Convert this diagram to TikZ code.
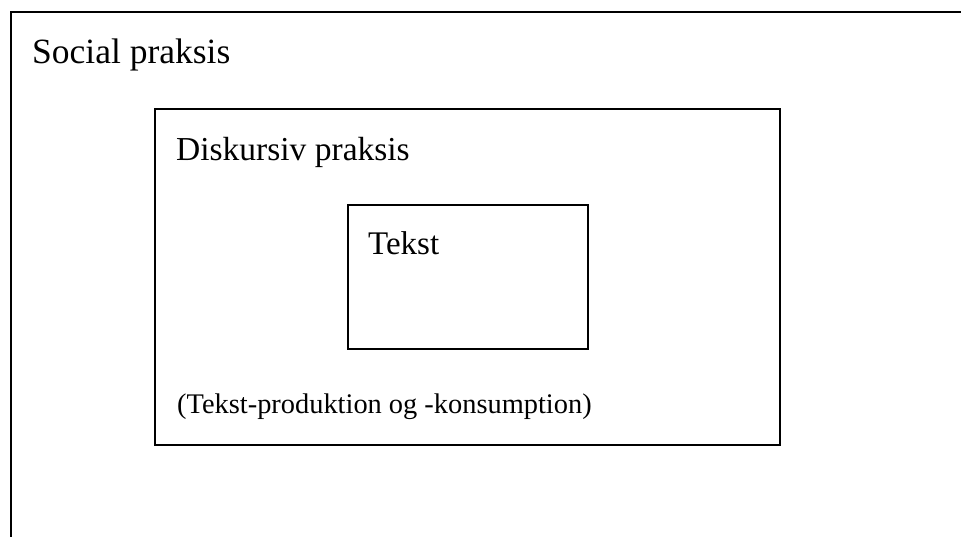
\documentclass[tikz,border=0pt]{standalone}
\usepackage{fontspec}
\setmainfont{Liberation Serif}
\tikzset{
  box/.style={draw=black, line width=1.6pt, rectangle, anchor=north west, inner sep=0pt},
  edge/.style={draw=black, line width=1.6pt, line cap=rect},
  lbl/.style={anchor=base west, inner sep=0pt, text=black},
}
\begin{document}
\begin{tikzpicture}[x=1pt,y=-1pt]
\useasboundingbox (0,0) rectangle (961,536);
\coordinate (socialTR) at (975,12);
\coordinate (socialTL) at (11,12);
\coordinate (socialBL) at (11,550);
\path[edge] (socialTR) -- (socialTL) -- (socialBL);
\node[box, minimum width=625pt, minimum height=336pt] (diskursiv) at (154,108) {};
\node[box, minimum width=240pt, minimum height=144pt] (tekst) at (347,204) {};
\node[lbl, font=\fontsize{35.5}{40}\selectfont] (socialtxt) at (32,63) {Social praksis};
\node[lbl, font=\fontsize{33.5}{38}\selectfont] (diskursivtxt) at (176,160) {Diskursiv praksis};
\node[lbl, font=\fontsize{33}{38}\selectfont] (teksttxt) at (368,254) {Tekst};
\node[lbl, font=\fontsize{28.4}{32}\selectfont] (prodtxt) at (177,413) {(Tekst-produktion og -konsumption)};
\end{tikzpicture}
\end{document}
